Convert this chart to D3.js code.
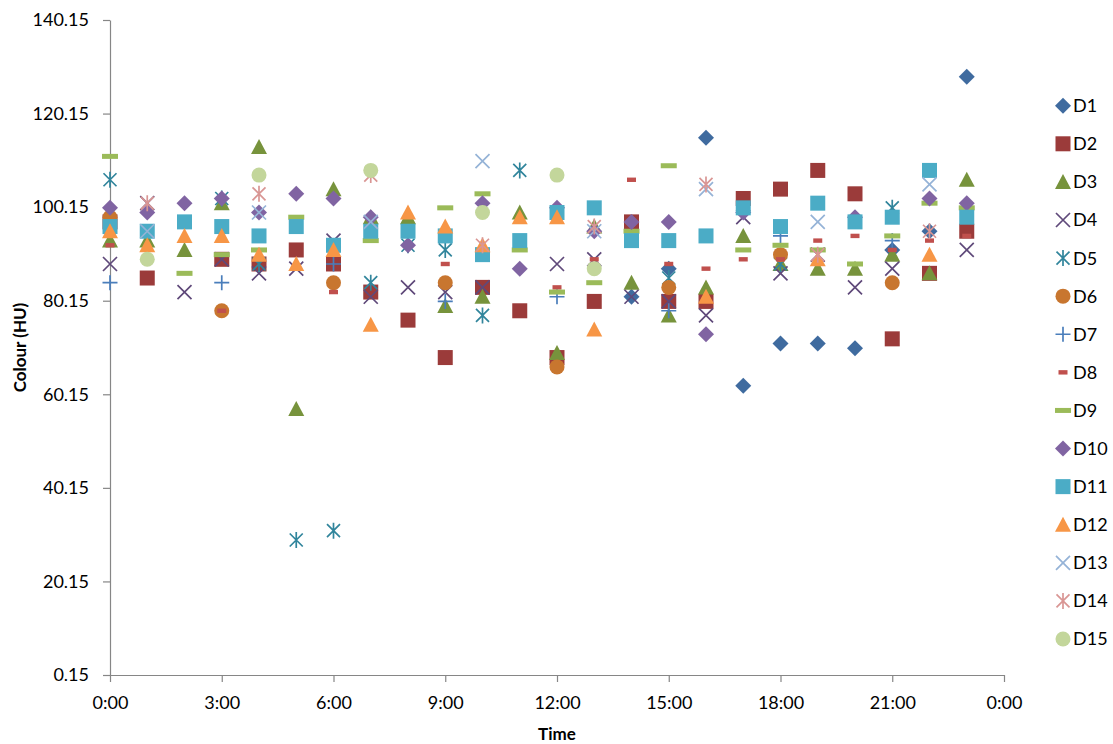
<!DOCTYPE html>
<html>
<head>
<meta charset="utf-8">
<script src="https://cdn.jsdelivr.net/npm/d3@7"></script>
<style>
  html, body { margin: 0; padding: 0; background: #fff; }
  svg { display: block; }
</style>
</head>
<body>
<div id="chart"></div>
<script>
// ── Data (hour of day → colour in HU, null = no reading) ─────
const HOURS = d3.range(24);
const X_TICKS = [0, 3, 6, 9, 12, 15, 18, 21, 24];
const Y_TICKS = [0.15, 20.15, 40.15, 60.15, 80.15, 100.15, 120.15, 140.15];

const D1  = [null,null,null,null,null,null,null,null,null,null,null,null,null,null,81,87,115,62,71,71,70,91,95,128];
const D2  = [97,85,null,89,88,91,88,82,76,68,83,78,68,80,97,80,80,102,104,108,103,72,86,95];
const D3  = [93,93,91,101,113,57,104,98,98,79,81,99,69,96,84,77,83,94,88,87,87,90,86,106];
const D4  = [88,101,82,89,86,87,93,81,83,82,83,null,88,89,81,80,77,98,86,90,83,87,null,91];
const D5  = [106,null,null,102,88,29,31,84,92,91,77,108,null,null,null,85,null,null,88,null,null,100,null,null];
const D6  = [98,null,null,78,null,null,84,null,null,84,null,null,66,null,null,83,null,null,90,null,null,84,null,null];
const D7  = [84,null,null,84,null,null,88,null,null,80,null,null,81,null,null,78,null,null,94,null,null,93,null,null];
const D8  = [92,null,null,78,null,null,82,null,null,88,null,null,83,89,106,88,87,89,89,93,94,91,93,94];
const D9  = [111,null,86,90,91,98,null,93,null,100,103,91,82,84,95,109,null,91,92,91,88,94,101,100];
const D10 = [100,99,101,102,99,103,102,98,92,null,101,87,100,95,97,97,73,99,null,null,98,null,102,101];
const D11 = [96,95,97,96,94,96,92,95,95,94,90,93,99,100,93,93,94,100,96,101,97,98,108,98];
const D12 = [95,92,94,94,90,88,91,75,99,96,92,98,98,74,null,null,81,null,null,89,null,null,90,null];
const D13 = [null,95,null,null,99,null,null,97,null,null,110,null,null,95,null,null,104,null,null,97,null,null,105,null];
const D14 = [null,101,null,null,103,null,null,107,null,null,92,null,null,96,null,null,105,null,null,90,null,null,95,null];
const D15 = [null,89,null,null,107,null,null,108,null,null,99,null,107,87,null,null,null,null,null,null,null,null,null,null];

const SERIES_NAMES  = ['D1','D2','D3','D4','D5','D6','D7','D8','D9','D10','D11','D12','D13','D14','D15'];
const SERIES_VALUES = [D1, D2, D3, D4, D5, D6, D7, D8, D9, D10, D11, D12, D13, D14, D15];

// ── Marker styles (Excel default series order) ───────────────
const STYLES = [
  { shape: 'diamond',  color: '#3f6b9f' },
  { shape: 'square',   color: '#9b3b3a' },
  { shape: 'triangle', color: '#77933c' },
  { shape: 'x',        color: '#5f497a' },
  { shape: 'star',     color: '#31859c' },
  { shape: 'circle',   color: '#c8762f' },
  { shape: 'plus',     color: '#4a7ebb' },
  { shape: 'dashS',    color: '#c0504d' },
  { shape: 'dashL',    color: '#9bbb59' },
  { shape: 'diamond',  color: '#8064a2' },
  { shape: 'square',   color: '#4bacc6' },
  { shape: 'triangle', color: '#f79646' },
  { shape: 'x',        color: '#95b3d7' },
  { shape: 'star',     color: '#d99694' },
  { shape: 'circle',   color: '#c3d69b' },
];

const FONT = 'Lato, "Open Sans", sans-serif';
const AXIS_GREY = '#868686';

// ── Layout ───────────────────────────────────────────────────
const width = 1113, height = 744;
const plot = { left: 110, right: 1004, top: 20, bottom: 675 };

const svg = d3.select('#chart').append('svg')
  .attr('width', width)
  .attr('height', height);

svg.append('rect').attr('width', width).attr('height', height).attr('fill', '#fff');

const x = d3.scaleLinear().domain([0, 24]).range([plot.left, plot.right]);
const y = d3.scaleLinear().domain([0.15, 140.15]).range([plot.bottom, plot.top]);

// ── Axes ─────────────────────────────────────────────────────
const yAxis = d3.axisLeft(y)
  .tickValues(Y_TICKS)
  .tickFormat(d3.format('.2f'))
  .tickSize(7)
  .tickSizeOuter(0)
  .tickPadding(14);

const xAxis = d3.axisBottom(x)
  .tickValues(X_TICKS)
  .tickFormat(h => `${h % 24}:00`)
  .tickSize(7)
  .tickSizeOuter(0)
  .tickPadding(14);

function styleAxis(g) {
  g.select('.domain').attr('stroke', AXIS_GREY).attr('stroke-width', 1.2);
  g.selectAll('.tick line').attr('stroke', AXIS_GREY).attr('stroke-width', 1.2);
  g.selectAll('.tick text')
    .attr('fill', '#000')
    .attr('font-family', FONT)
    .attr('font-size', 18);
}

svg.append('g')
  .attr('transform', `translate(${plot.left},0)`)
  .call(yAxis)
  .call(styleAxis);

svg.append('g')
  .attr('transform', `translate(0,${plot.bottom})`)
  .call(xAxis)
  .call(styleAxis);

// Axis titles
svg.append('text')
  .attr('transform', `translate(26,${(plot.top + plot.bottom) / 2}) rotate(-90)`)
  .attr('text-anchor', 'middle')
  .attr('font-family', FONT)
  .attr('font-size', 17)
  .attr('font-weight', 700)
  .text('Colour (HU)');

svg.append('text')
  .attr('x', (plot.left + plot.right) / 2)
  .attr('y', 740)
  .attr('text-anchor', 'middle')
  .attr('font-family', FONT)
  .attr('font-size', 17)
  .attr('font-weight', 700)
  .text('Time');

// ── Marker drawing ───────────────────────────────────────────
function drawMarker(sel, style) {
  const c = style.color;
  switch (style.shape) {
    case 'diamond':
      sel.append('path').attr('d', 'M0,-8L8,0L0,8L-8,0Z').attr('fill', c);
      break;
    case 'square':
      sel.append('rect').attr('x', -7.5).attr('y', -7.5).attr('width', 15).attr('height', 15).attr('fill', c);
      break;
    case 'triangle':
      sel.append('path').attr('d', 'M0,-8L8,7L-8,7Z').attr('fill', c);
      break;
    case 'circle':
      sel.append('circle').attr('r', 7.5).attr('fill', c);
      break;
    case 'x':
      sel.append('path').attr('d', 'M-7,-7L7,7M-7,7L7,-7')
        .attr('stroke', c).attr('stroke-width', 1.7).attr('fill', 'none');
      break;
    case 'star':
      sel.append('path').attr('d', 'M-6.5,-6.5L6.5,6.5M-6.5,6.5L6.5,-6.5M0,-8L0,8')
        .attr('stroke', c).attr('stroke-width', 1.7).attr('fill', 'none');
      break;
    case 'plus':
      sel.append('path').attr('d', 'M-7.5,0L7.5,0M0,-7.5L0,7.5')
        .attr('stroke', c).attr('stroke-width', 1.7).attr('fill', 'none');
      break;
    case 'dashS':
      sel.append('rect').attr('x', -4.5).attr('y', -2.2).attr('width', 9).attr('height', 4.4).attr('fill', c);
      break;
    case 'dashL':
      sel.append('rect').attr('x', -8).attr('y', -2.5).attr('width', 16).attr('height', 5).attr('fill', c);
      break;
  }
}

// ── Points (D1 drawn first, D15 on top) ──────────────────────
SERIES_VALUES.forEach((values, i) => {
  const pts = HOURS.map(h => ({ h, v: values[h] })).filter(d => d.v != null);
  const g = svg.append('g').attr('class', `series-${SERIES_NAMES[i]}`);
  g.selectAll('g')
    .data(pts)
    .join('g')
    .attr('transform', d => `translate(${x(d.h)},${y(d.v)})`)
    .each(function() { drawMarker(d3.select(this), STYLES[i]); });
});

// ── Legend ───────────────────────────────────────────────────
const legendRow = d3.scalePoint().domain(SERIES_NAMES).range([105.7, 639]);

const legend = svg.append('g').attr('class', 'legend');
SERIES_NAMES.forEach((name, i) => {
  const row = legend.append('g')
    .attr('transform', `translate(1063,${legendRow(name)})`);
  drawMarker(row, STYLES[i]);
  row.append('text')
    .attr('x', 10)
    .attr('dy', '0.36em')
    .attr('font-family', FONT)
    .attr('font-size', 18)
    .attr('fill', '#000')
    .text(name);
});
</script>
</body>
</html>
